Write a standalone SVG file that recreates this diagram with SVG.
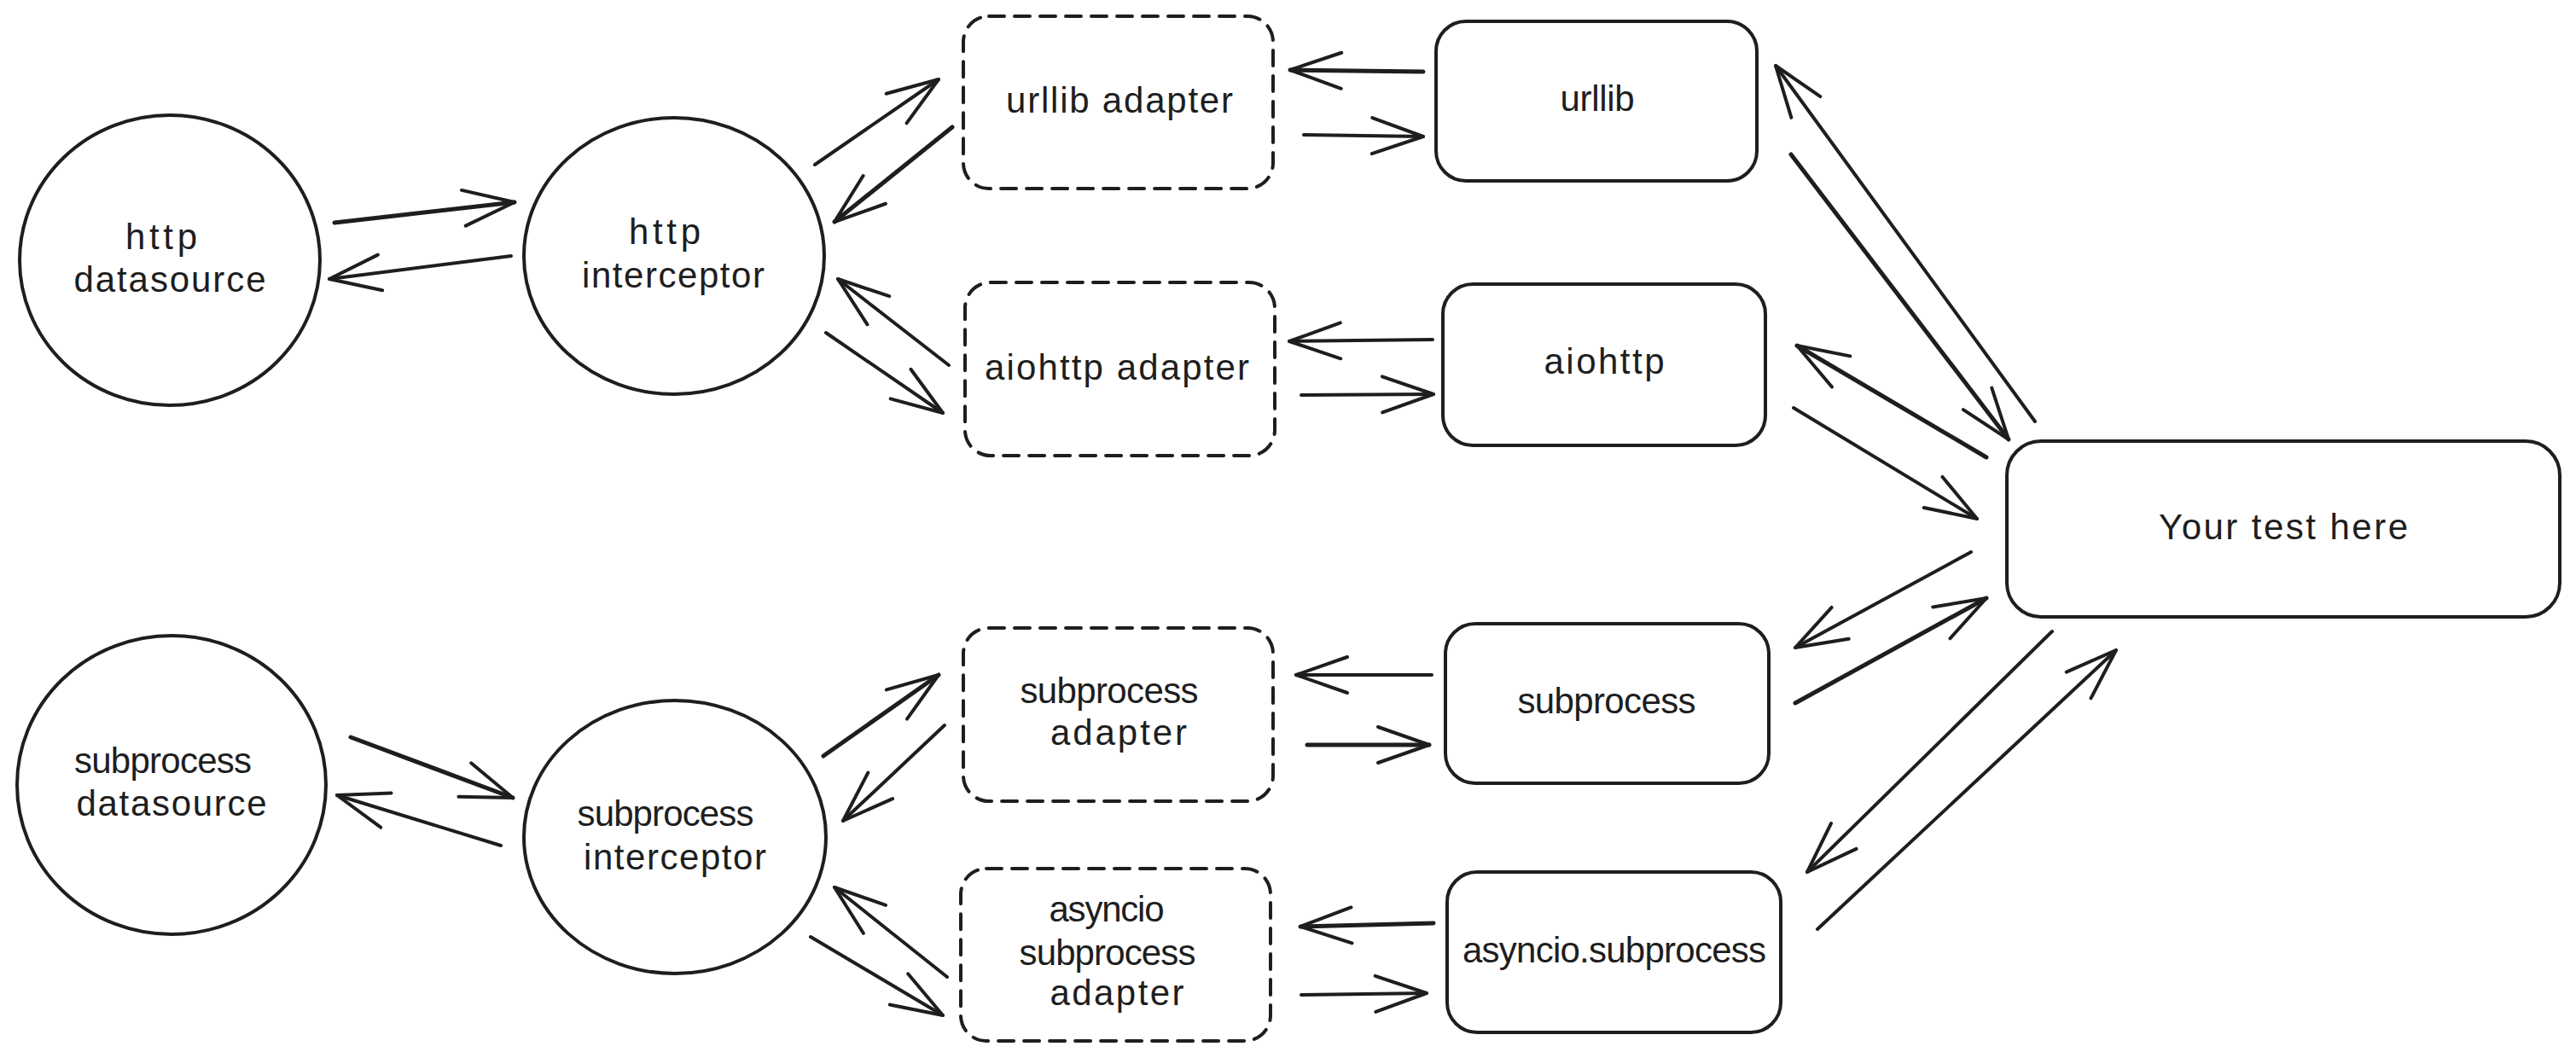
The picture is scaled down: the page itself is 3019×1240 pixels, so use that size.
<svg xmlns="http://www.w3.org/2000/svg" width="3019" height="1240" viewBox="0 0 3019 1240">
<style>
.bg{fill:#ffffff}
.shape{fill:none;stroke:#1e1e1e;stroke-width:4;stroke-linejoin:round}
.dash{fill:none;stroke:#1e1e1e;stroke-width:4;stroke-dasharray:18 12;stroke-linecap:round}
.lbl{font-family:"Liberation Sans",Arial,sans-serif;font-size:42px;fill:#1e1e1e;text-anchor:middle}
.conn{fill:none;stroke:#1e1e1e;stroke-width:4;stroke-linecap:round;marker-end:url(#ah)}
.thick{stroke-width:5}
</style>
<defs>
<marker id="ah" viewBox="-70 -30 80 60" refX="0" refY="0" markerWidth="80" markerHeight="60" markerUnits="userSpaceOnUse" orient="auto" overflow="visible">
<path d="M-60,-21 L0,0 L-60,21" fill="none" stroke="#1e1e1e" stroke-width="4" stroke-linecap="round" stroke-linejoin="round"/>
</marker>
</defs>
<rect class="bg" x="0" y="0" width="3019" height="1240"/>

<g id="http-datasource">
<ellipse class="shape" cx="199" cy="305" rx="176" ry="170"/>
<text class="lbl" x="189" y="292" textLength="84">http</text>
<text class="lbl" x="199" y="342" textLength="225">datasource</text>
</g>
<g id="http-interceptor">
<ellipse class="shape" cx="790" cy="300" rx="176" ry="162"/>
<text class="lbl" x="779" y="286" textLength="84">http</text>
<text class="lbl" x="789" y="337" textLength="214">interceptor</text>
</g>
<g id="urllib-adapter">
<rect class="dash" x="1129" y="19" width="363" height="202" rx="30"/>
<text class="lbl" x="1312" y="132" textLength="266">urllib adapter</text>
</g>
<g id="urllib">
<rect class="shape" x="1683" y="25" width="376" height="187" rx="35"/>
<text class="lbl" x="1872" y="130" textLength="87">urllib</text>
</g>
<g id="aiohttp-adapter">
<rect class="dash" x="1131" y="331" width="363" height="203" rx="30"/>
<text class="lbl" x="1309" y="445" textLength="310">aiohttp adapter</text>
</g>
<g id="aiohttp">
<rect class="shape" x="1691" y="333" width="378" height="189" rx="35"/>
<text class="lbl" x="1880" y="438" textLength="141">aiohttp</text>
</g>
<g id="your-test-here">
<rect class="shape" x="2352" y="517" width="648" height="206" rx="40"/>
<text class="lbl" x="2676" y="632" textLength="292">Your test here</text>
</g>
<g id="subprocess-datasource">
<ellipse class="shape" cx="201" cy="920" rx="181" ry="175"/>
<text class="lbl" x="191" y="906" textLength="208">subprocess</text>
<text class="lbl" x="201" y="956" textLength="223">datasource</text>
</g>
<g id="subprocess-interceptor">
<ellipse class="shape" cx="791" cy="981" rx="177" ry="160"/>
<text class="lbl" x="780" y="968" textLength="207">subprocess</text>
<text class="lbl" x="791" y="1019" textLength="214">interceptor</text>
</g>
<g id="subprocess-adapter">
<rect class="dash" x="1129" y="736" width="363" height="203" rx="30"/>
<text class="lbl" x="1300" y="824" textLength="209">subprocess</text>
<text class="lbl" x="1311" y="873" textLength="160">adapter</text>
</g>
<g id="subprocess">
<rect class="shape" x="1694" y="731" width="379" height="187" rx="35"/>
<text class="lbl" x="1883" y="836" textLength="209">subprocess</text>
</g>
<g id="asyncio-subprocess-adapter">
<rect class="dash" x="1126" y="1018" width="363" height="202" rx="30"/>
<text class="lbl" x="1297" y="1080" textLength="135">asyncio</text>
<text class="lbl" x="1298" y="1131" textLength="207">subprocess</text>
<text class="lbl" x="1309" y="1178" textLength="157">adapter</text>
</g>
<g id="asyncio-subprocess">
<rect class="shape" x="1696" y="1022" width="391" height="188" rx="35"/>
<text class="lbl" x="1892" y="1128" textLength="356">asyncio.subprocess</text>
</g>

<g id="connectors">
<path class="conn thick" d="M392,261 L603,237"/>
<path class="conn" d="M599,300 L386,327"/>
<path class="conn" d="M955,193 L1100,93"/>
<path class="conn thick" d="M1116,149 L978,260"/>
<path class="conn thick" d="M1668,84 L1512,82"/>
<path class="conn" d="M1528,158 L1668,160"/>
<path class="conn" d="M1112,428 L982,327"/>
<path class="conn" d="M968,390 L1105,484"/>
<path class="conn" d="M1679,398 L1511,400"/>
<path class="conn" d="M1525,463 L1680,462"/>
<path class="conn" d="M2385,494 L2081,77"/>
<path class="conn thick" d="M2099,181 L2354,515"/>
<path class="conn thick" d="M2328,536 L2106,405"/>
<path class="conn" d="M2102,478 L2317,608"/>
<path class="conn" d="M2310,647 L2104,759"/>
<path class="conn thick" d="M2104,824 L2328,701"/>
<path class="conn" d="M2405,740 L2118,1022"/>
<path class="conn" d="M2130,1089 L2480,762"/>
<path class="conn thick" d="M411,864 L601,935"/>
<path class="conn" d="M587,991 L395,932"/>
<path class="conn thick" d="M965,886 L1100,791"/>
<path class="conn" d="M1107,850 L988,962"/>
<path class="conn" d="M1678,791 L1519,791"/>
<path class="conn thick" d="M1532,873 L1675,873"/>
<path class="conn" d="M1110,1145 L978,1040"/>
<path class="conn" d="M950,1098 L1105,1190"/>
<path class="conn thick" d="M1680,1082 L1524,1086"/>
<path class="conn" d="M1525,1166 L1672,1164"/>
</g>
</svg>
